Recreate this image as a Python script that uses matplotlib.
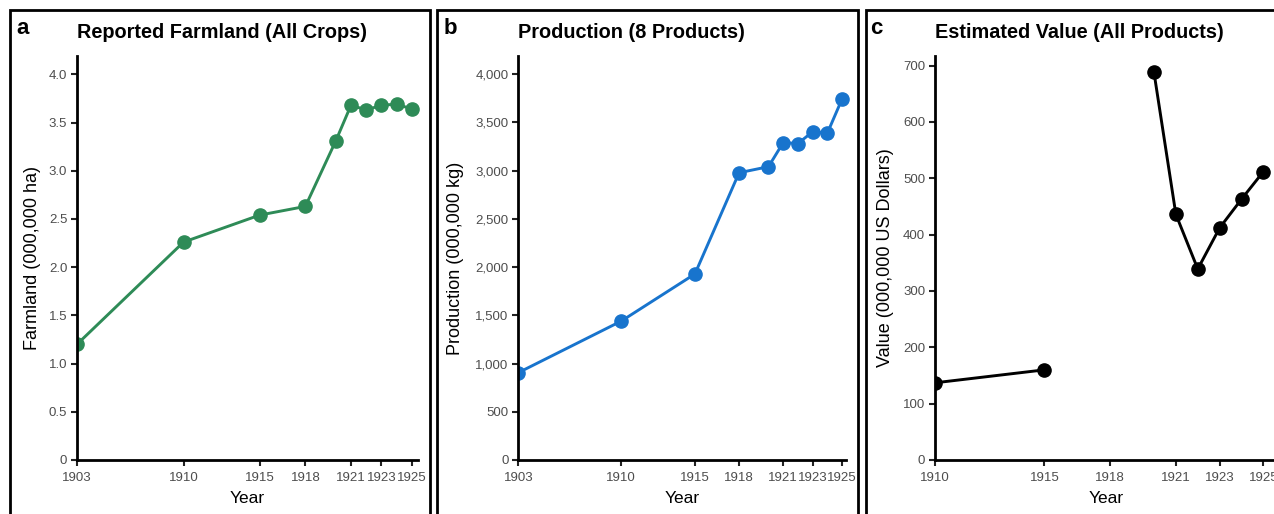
import numpy as np
import matplotlib
matplotlib.use('Agg')
import matplotlib.pyplot as plt
from matplotlib.patches import Rectangle
from matplotlib.ticker import FuncFormatter
from matplotlib.transforms import Bbox, TransformedBbox

plt.rcParams['font.family'] = ['Liberation Sans', 'DejaVu Sans']

# data
years = [1903, 1910, 1915, 1918, 1920, 1921, 1922, 1923, 1924, 1925]
farmland = [1.20, 2.26, 2.54, 2.63, 3.31, 3.68, 3.63, 3.68, 3.69, 3.64]
production = [905, 1440, 1928, 2977, 3040, 3290, 3280, 3402, 3388, 3742]

years_c = [1910, 1915, 1918, 1920, 1921, 1922, 1923, 1924, 1925]
value = [137, 160, np.nan, 688, 436, 339, 412, 463, 512]   # no value for 1918

xticks_ab = [1903, 1910, 1915, 1918, 1921, 1923, 1925]
xticks_c = [1910, 1915, 1918, 1921, 1923, 1925]

W, H = 1274, 514
fig = plt.figure(figsize=(W / 100, H / 100), dpi=100)


def px(x0, x1, y0, y1):
    # pixel box -> figure fraction [left, bottom, width, height]
    return [x0 / W, 1 - y1 / H, (x1 - x0) / W, (y1 - y0) / H]


def style(ax, xticks, xlim, ylim, yticks, fmt, ylabel, ylx):
    ax.set_xlim(*xlim)
    ax.set_ylim(*ylim)
    ax.set_xticks(xticks)
    ax.set_yticks(yticks)
    ax.yaxis.set_major_formatter(FuncFormatter(fmt))
    for s in ['top', 'right']:
        ax.spines[s].set_visible(False)
    for s in ['left', 'bottom']:
        ax.spines[s].set_linewidth(2.0)
        ax.spines[s].set_color('black')
    ax.tick_params(length=4, width=1.5, color='#222222', labelcolor='#4d4d4d',
                   labelsize=9.5)
    ax.tick_params(axis='x', pad=4.5)
    ax.tick_params(axis='y', pad=3)
    ax.set_xlabel('Year', fontsize=12.5)
    ax.set_ylabel(ylabel, fontsize=13)
    ax.xaxis.set_label_coords(0.5, -0.076)
    ax.yaxis.set_label_coords(ylx, 0.5)


def draw(ax, x, y, color):
    line, = ax.plot(x, y, color=color, lw=2.1, marker='o', ms=9.5)
    # clip at the left/bottom axis only, let the last marker show fully
    line.set_clip_box(TransformedBbox(Bbox([[0, 0], [1.1, 1.1]]), ax.transAxes))


# panel a
ax1 = fig.add_axes(px(77, 418, 56, 460))
draw(ax1, years, farmland, '#2e8b57')
style(ax1, xticks_ab, (1903, 1925.4), (0, 4.19), np.arange(0, 4.01, 0.5),
      lambda v, p: '0' if v == 0 else '%.1f' % v, 'Farmland (000,000 ha)', -0.105)

# panel b
ax2 = fig.add_axes(px(518.3, 846.5, 56, 460))
draw(ax2, years, production, '#1874cd')
style(ax2, xticks_ab, (1903, 1925.3), (0, 4187), np.arange(0, 4001, 500),
      lambda v, p: '{:,}'.format(int(v)), 'Production (000,000 kg)', -0.165)

# panel c
ax3 = fig.add_axes(px(935, 1276.6, 56, 460))
draw(ax3, years_c, value, 'black')
style(ax3, xticks_c, (1910, 1925.6), (0, 717), np.arange(0, 701, 100),
      lambda v, p: '%d' % v, 'Value (000,000 US Dollars)', -0.12)

# titles and panel letters
titles = ['Reported Farmland (All Crops)', 'Production (8 Products)',
          'Estimated Value (All Products)']
letters = ['a', 'b', 'c']
for ax, t, l, lx in zip([ax1, ax2, ax3], titles, letters, [16, 444, 870]):
    x0 = ax.get_position().x0
    fig.text(x0, 1 - 32 / H, t, fontsize=14.3, fontweight='bold',
             ha='left', va='center')
    fig.text(lx / W, 1 - 29 / H, l, fontsize=16, fontweight='bold',
             ha='left', va='center')

# panel frames
for x0, x1 in [(10, 430), (437, 858), (866, 1290)]:
    fig.add_artist(Rectangle((x0 / W, -0.1), (x1 - x0) / W, 1.1 - 10 / H,
                             transform=fig.transFigure, fill=False,
                             ec='black', lw=2))

fig.savefig('out.png', dpi=100)
plt.close(fig)
